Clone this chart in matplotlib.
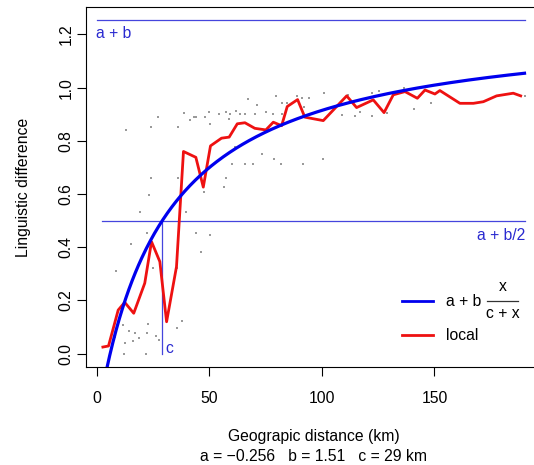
import matplotlib
matplotlib.use("Agg")
import matplotlib.pyplot as plt
import numpy as np

plt.rcParams['font.family'] = ['Liberation Sans', 'DejaVu Sans']

# parameters of the fitted curve
a, b, c = -0.256, 1.51, 29.0

# scatter of pairwise distances
geo_pts = [12.8, 24.1, 27.2, 35.9, 38.7, 41.3, 43.3, 44.2, 48.0, 49.9, 50.1, 54.4, 57.6, 58.7,
           59.3, 61.8, 63.6, 65.8, 67.1, 70.2, 71.3, 75.3, 78.1, 79.6, 82.1, 82.4, 84.6, 88.8,
           91.0, 94.4, 100.9, 92.0, 108.8, 111.4, 114.7, 116.7, 122.4, 122.1, 125.5, 128.9,
           136.4, 141.0, 148.4, 190.2, 61.3, 73.6, 78.9, 81.9, 60.0, 65.9, 69.6, 91.7, 100.6,
           24.0, 35.9, 57.6, 56.4, 47.4, 23.0, 19.3, 39.8, 44.2, 50.2, 22.2, 15.4, 46.1, 24.8,
           35.7, 8.7, 11.7, 22.9, 37.9, 35.7, 14.4, 16.9, 26.1, 22.4, 18.8, 16.1, 12.4, 27.7,
           12.1, 21.8, 8.0]
ling_pts = [0.841, 0.852, 0.891, 0.852, 0.903, 0.880, 0.891, 0.891, 0.891, 0.909, 0.864, 0.901,
            0.909, 0.882, 0.901, 0.911, 0.901, 0.901, 0.958, 0.901, 0.933, 0.910, 0.901, 0.969,
            0.901, 0.941, 0.941, 0.969, 0.960, 0.960, 0.979, 0.929, 0.897, 0.971, 0.892, 0.910,
            0.892, 0.979, 0.988, 0.906, 0.998, 0.919, 0.941, 0.970, 0.778, 0.749, 0.731, 0.712,
            0.712, 0.712, 0.712, 0.713, 0.731, 0.659, 0.662, 0.662, 0.626, 0.609, 0.597, 0.534,
            0.534, 0.455, 0.445, 0.453, 0.411, 0.381, 0.323, 0.323, 0.312, 0.106, 0.110, 0.124,
            0.098, 0.086, 0.079, 0.067, 0.079, 0.059, 0.049, 0.039, 0.052, -0.001, -0.001, 0.062]

# local average
local_x = [2.7, 5.2, 9.5, 12.4, 16.4, 21.3, 24.3, 28.0, 31.0, 35.4, 38.5, 44.0, 47.3, 50.5,
           55.4, 58.8, 62.4, 65.8, 70.2, 75.1, 78.4, 82.1, 84.6, 89.2, 92.4, 100.6, 111.0,
           115.4, 122.8, 127.6, 131.7, 136.9, 142.4, 145.8, 150.2, 152.4, 161.3, 167.3, 171.7,
           177.6, 185.0, 188.3]
local_y = [0.025, 0.029, 0.164, 0.193, 0.152, 0.265, 0.421, 0.346, 0.120, 0.327, 0.760, 0.738,
           0.626, 0.781, 0.810, 0.814, 0.864, 0.868, 0.847, 0.841, 0.870, 0.857, 0.929, 0.955,
           0.889, 0.876, 0.969, 0.925, 0.954, 0.906, 0.973, 0.985, 0.960, 0.991, 0.976, 0.989,
           0.941, 0.941, 0.947, 0.969, 0.979, 0.969]

xticks = [0, 50, 100, 150]
yticks = [0.0, 0.2, 0.4, 0.6, 0.8, 1.0, 1.2]

FS = 11.3
W, H = 534, 465
fig = plt.figure(figsize=(W / 100, H / 100), dpi=100)
ax_l, ax_r, ax_t, ax_b = 86, 541.4, 7, 367
ax = fig.add_axes([ax_l / W, 1 - ax_b / H, (ax_r - ax_l) / W, (ax_b - ax_t) / H])

ax.scatter(geo_pts, ling_pts, s=1.1, marker='s', color='#9a9a9a', linewidths=0, zorder=1)

xs = np.linspace(0, 190, 400)
ax.plot(xs, a + b * xs / (c + xs), color='#0000ee', lw=2.3, zorder=4)
ax.plot(local_x, local_y, color='#ee1111', lw=2.0, zorder=3)

lc = '#4545dd'
ax.plot([0, 190], [a + b, a + b], color=lc, lw=0.9, zorder=2)
ax.plot([2.5, 190], [a + b / 2, a + b / 2], color=lc, lw=0.9, zorder=2)
ax.plot([c, c], [0, a + b / 2], color=lc, lw=0.9, zorder=2)

tc = '#2a2ad0'
ax.text(-0.5, a + b - 0.022, 'a + b', color=tc, fontsize=FS, ha='left', va='top')
ax.text(190.5, a + b / 2 - 0.027, 'a + b/2', color=tc, fontsize=FS, ha='right', va='top')
ax.text(c + 1.5, 0.02, 'c', color=tc, fontsize=FS, ha='left', va='center')

ax.set_xlim(-4.8, 197.5)
ax.set_ylim(-0.05, 1.303)
ax.set_xticks(xticks)
ax.set_xticklabels([str(t) for t in xticks])
ax.set_yticks(yticks)
ax.set_yticklabels([f'{t:.1f}' for t in yticks], rotation=90, va='center')
ax.tick_params(direction='out', length=6.5, width=0.8, labelsize=FS)
ax.tick_params(axis='x', pad=10.5)
ax.tick_params(axis='y', pad=2.5)
for s in ax.spines.values():
    s.set_linewidth(0.8)

ax.set_xlabel('Geograpic distance (km)\na = \u22120.256   b = 1.51   c = 29 km',
              fontsize=FS, labelpad=16.5, linespacing=1.45)
ax.set_ylabel('Linguistic difference', fontsize=FS, labelpad=20)

# legend drawn by hand (pixel positions converted to axes fraction)
def axx(px):
    return (px - ax_l) / (ax_r - ax_l)

def axy(py):
    return (ax_b - py) / (ax_b - ax_t)

T = ax.transAxes
ax.plot([axx(402), axx(433)], [axy(301), axy(301)], color='#0000ee', lw=2.0, transform=T, clip_on=False)
ax.plot([axx(402), axx(433)], [axy(335), axy(335)], color='#ee1111', lw=2.0, transform=T, clip_on=False)
ax.text(axx(446), axy(301), 'a + b', fontsize=FS, ha='left', va='center', transform=T)
ax.plot([axx(487), axx(518)], [axy(300.5), axy(300.5)], color='#333333', lw=0.9, transform=T, clip_on=False)
ax.text(axx(502.5), axy(291), 'x', fontsize=FS, ha='center', va='baseline', transform=T)
ax.text(axx(502.5), axy(318), 'c + x', fontsize=FS, ha='center', va='baseline', transform=T)
ax.text(axx(446), axy(335), 'local', fontsize=FS, ha='left', va='center', transform=T)

fig.savefig('out.png', dpi=100)
